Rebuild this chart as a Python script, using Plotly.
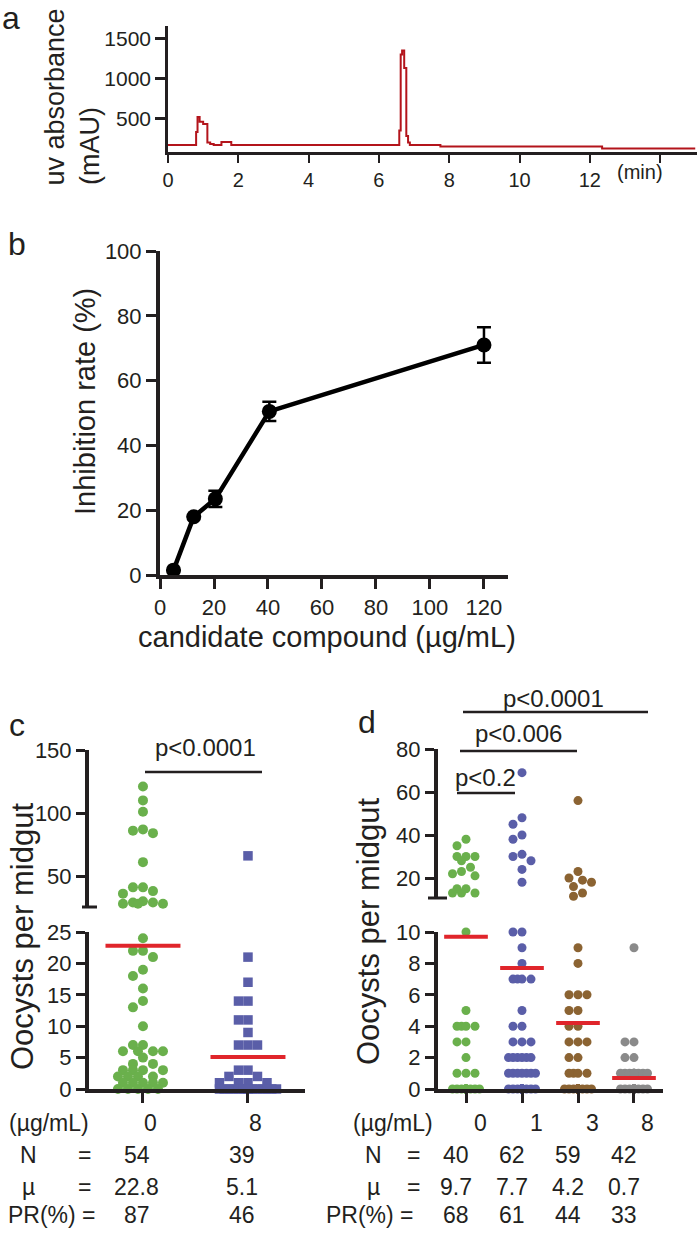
import numpy as np
import plotly.graph_objects as go

W, H = 697, 1233
INK = '#231f20'
SANS = 'Liberation Sans, Arial, sans-serif'
NARROW = 'Liberation Sans Narrow, Arial Narrow, Liberation Sans, sans-serif'

# --- (a) HPLC trace: step changes ---
a_time = [0.00, 0.80, 0.84, 0.90, 1.00, 1.12, 1.20, 1.30, 1.52, 1.80,
          6.58, 6.62, 6.66, 6.72, 6.78, 6.83, 6.88, 7.75, 12.35, 15.0]
a_mau = [170, 330, 520, 460, 430, 200, 180, 170, 205, 170,
         350, 1300, 1350, 1130, 280, 200, 170, 150, 125, 125]
a_xticks = [0, 2, 4, 6, 8, 10, 12, 14]
a_xlabels = ['0', '2', '4', '6', '8', '10', '12', '']
a_yticks = [500, 1000, 1500]

# --- (b) dose response ---
b_dose = [5, 12.5, 20.5, 40.5, 120]
b_inhib = [1.5, 18, 23.5, 50.5, 71]
b_err = [0, 0, 2.5, 3.0, 5.5]

# --- (c) oocysts, two doses ---
c_doses = ['0', '8']
c_n = [54, 39]
c_mu = [22.8, 5.1]
c_pr = [87, 46]
c_g0 = [121, 110, 101, 87, 86, 84, 61, 41, 41, 38, 36, 30, 29, 29, 28, 28, 28,
        24, 22, 22, 21, 19, 18, 16, 14, 13, 10, 7, 7, 6, 6, 6, 6, 5, 4, 4,
        3, 3, 3, 3, 2, 2, 2, 2, 1, 1, 1, 1, 1, 0, 0, 0, 0, 0]
c_g8 = [66, 21, 17, 14, 14, 11, 11, 9, 7, 7, 7, 3, 3, 2, 2, 1, 1, 1, 1,
        0, 0, 0, 0, 0, 0, 0, 0, 0, 0, 0, 0, 0, 0, 0, 0, 0, 0, 0, 0]

# --- (d) oocysts, four doses ---
d_doses = ['0', '1', '3', '8']
d_n = [40, 62, 59, 42]
d_mu = [9.7, 7.7, 4.2, 0.7]
d_pr = [68, 61, 44, 33]
d_g0 = [38, 35, 30, 30, 30, 28, 25, 23, 22, 21, 15, 15, 13, 13, 13,
        10, 5, 4, 4, 4, 4, 3, 3, 2, 1, 1, 1,
        0, 0, 0, 0, 0, 0, 0, 0, 0, 0, 0, 0, 0]
d_g1 = [69, 48, 45, 40, 38, 31, 30, 28, 24, 18,
        10, 10, 9, 8, 7, 7, 7, 7, 5, 4, 4, 3, 3, 3,
        2, 2, 2, 2, 2, 2, 1, 1, 1, 1, 1, 1, 1,
        0, 0, 0, 0, 0, 0, 0, 0, 0, 0, 0, 0, 0, 0, 0, 0, 0, 0, 0, 0, 0, 0, 0, 0, 0]
d_g3 = [56, 23, 20, 19, 18, 16, 13, 11.5,
        9, 8, 6, 6, 6, 5, 5, 4, 4, 3, 3, 3, 2, 2, 1, 1, 1, 1,
        0, 0, 0, 0, 0, 0, 0, 0, 0, 0, 0, 0, 0, 0, 0, 0, 0, 0, 0, 0, 0, 0, 0, 0,
        0, 0, 0, 0, 0, 0, 0, 0, 0]
d_g8 = [9, 3, 3, 2, 2, 1, 1, 1, 1, 1, 1, 1, 1, 1, 1,
        0, 0, 0, 0, 0, 0, 0, 0, 0, 0, 0, 0, 0, 0, 0, 0, 0, 0, 0, 0, 0, 0, 0, 0, 0, 0, 0]

GREEN, BLUE, BROWN, GREY, RED = '#6ab04c', '#5a5ea8', '#8b6332', '#8a8a8a', '#e0252b'


def fx(px):
    return px / W


def fy(py):
    return 1 - py / H


def swarm(vals, ppy, ppx, dot, half):
    """x offsets (axis units) for a scatter dot plot, GraphPad style."""
    step = dot / 2
    n = int(half // step)
    cands = sorted(range(-n, n + 1), key=lambda k: (abs(k), k))
    placed, offs = [], np.zeros(len(vals))
    for i in np.argsort(vals)[::-1]:
        y = vals[i] * ppy
        best, bestd = 0.0, -1.0
        for k in cands:
            x = k * step
            dmin = min([np.hypot(x - px, y - py) for px, py in placed] or [1e9])
            if dmin >= dot * 0.98:
                best = x
                break
            if dmin > bestd:
                bestd, best = dmin, x
        placed.append((best, y))
        offs[i] = best / ppx
    return offs


fig = go.Figure()

# panel a
fig.add_trace(go.Scatter(x=a_time, y=a_mau, mode='lines', line=dict(color='#b3141b', width=2, shape='hv'),
                         xaxis='x', yaxis='y', hoverinfo='skip'))

# panel b
fig.add_trace(go.Scatter(x=b_dose, y=b_inhib, mode='lines+markers',
                         line=dict(color='black', width=4.5), marker=dict(color='black', size=15),
                         error_y=dict(type='data', array=b_err, color='black', thickness=2.5, width=7),
                         xaxis='x2', yaxis='y2'))


def dot_groups(groups, colors, symbol, split, ax_up, ax_lo, ppx, ppy_up, ppy_lo, dot, half, size):
    for i, (vals, col) in enumerate(zip(groups, colors)):
        vals = np.array(vals, dtype=float)
        up = vals[vals > split]
        lo = vals[vals <= split]
        for seg, ax, ppy in ((up, ax_up, ppy_up), (lo, ax_lo, ppy_lo)):
            if len(seg) == 0:
                continue
            offs = swarm(seg, ppy, ppx, dot, half)
            fig.add_trace(go.Scatter(x=i + offs, y=seg, mode='markers', cliponaxis=False,
                                     marker=dict(symbol=symbol, size=size, color=col, line=dict(width=0)),
                                     xaxis=ax[0], yaxis=ax[1]))


dot_groups([c_g0], [GREEN], 'circle', 25, ('x3', 'y3'), ('x4', 'y4'), 105, 1.26, 6.28, 10, 29, 10)
dot_groups([[], c_g8], [GREEN, BLUE], 'square', 25, ('x3', 'y3'), ('x4', 'y4'), 105, 1.26, 6.28, 9.5, 31, 9.5)
dot_groups([d_g0, d_g1, d_g3, d_g8], [GREEN, BLUE, BROWN, GREY], 'circle', 10.5,
           ('x5', 'y5'), ('x6', 'y6'), 56, 2.15, 15.7, 9, 14, 9)

# mean bars
for i, m in enumerate(c_mu):
    fig.add_trace(go.Scatter(x=[i - 0.357, i + 0.357], y=[m, m], mode='lines', cliponaxis=False,
                             line=dict(color=RED, width=4), xaxis='x4', yaxis='y4'))
for i, m in enumerate(d_mu):
    fig.add_trace(go.Scatter(x=[i - 0.39, i + 0.39], y=[m, m], mode='lines', cliponaxis=False,
                             line=dict(color=RED, width=4), xaxis='x6', yaxis='y6'))

base = dict(showgrid=False, zeroline=False, showline=True, linecolor=INK, ticks='outside',
            tickcolor=INK, fixedrange=True, automargin=False)
tf22 = dict(family=SANS, size=22, color=INK)

layout_axes = dict(
    xaxis=dict(base, domain=[fx(168), 1], range=[0, 15.05], anchor='y', tickvals=a_xticks,
               ticktext=a_xlabels, ticklen=8, tickwidth=2, linewidth=2.5,
               tickfont=dict(family=NARROW, size=20, color=INK)),
    yaxis=dict(base, domain=[fy(152), fy(26)], range=[81, 1656], anchor='x', tickvals=a_yticks,
               ticklen=10, tickwidth=2.5, linewidth=2.5, tickfont=dict(family=NARROW, size=21, color=INK)),
    xaxis2=dict(base, domain=[fx(160), fx(508)], range=[0, 128.9], anchor='y2', tickvals=[0, 20, 40, 60, 80, 100, 120],
                ticklen=10, tickwidth=3, linewidth=4, tickfont=tf22),
    yaxis2=dict(base, domain=[fy(575), fy(251)], range=[0, 100], anchor='x2', tickvals=[0, 20, 40, 60, 80, 100],
                ticklen=10, tickwidth=3, linewidth=4, tickfont=tf22),
    xaxis3=dict(domain=[fx(89), fx(305)], range=[-0.514, 1.543], anchor='y3', visible=False,
                fixedrange=True, automargin=False),
    yaxis3=dict(base, domain=[fy(907), fy(750)], range=[25.4, 150], anchor='x3', tickvals=[50, 100, 150],
                ticklen=9, tickwidth=3, linewidth=4, tickfont=tf22),
    xaxis4=dict(base, domain=[fx(89), fx(305)], range=[-0.514, 1.543], anchor='y4', tickvals=[0, 1],
                ticktext=['', ''], ticklen=10, tickwidth=3, linewidth=4),
    yaxis4=dict(base, domain=[fy(1089), fy(932)], range=[0, 25], anchor='x4', tickvals=[0, 5, 10, 15, 20, 25],
                ticklen=9, tickwidth=3, linewidth=4, tickfont=tf22),
    xaxis5=dict(domain=[fx(438), fx(663)], range=[-0.5, 3.518], anchor='y5', visible=False,
                fixedrange=True, automargin=False),
    yaxis5=dict(base, domain=[fy(898), fy(749)], range=[10.7, 80], anchor='x5', tickvals=[20, 40, 60, 80],
                ticklen=9, tickwidth=3, linewidth=4, tickfont=tf22),
    xaxis6=dict(base, domain=[fx(438), fx(663)], range=[-0.5, 3.518], anchor='y6', tickvals=[0, 1, 2, 3],
                ticktext=['', '', '', ''], ticklen=10, tickwidth=3, linewidth=4),
    yaxis6=dict(base, domain=[fy(1089), fy(932)], range=[0, 10], anchor='x6', tickvals=[0, 2, 4, 6, 8, 10],
                ticklen=9, tickwidth=3, linewidth=4, tickfont=tf22),
)

ann = []


def txt(x, y, s, size=23, family=NARROW, xanchor='center', yanchor='middle', angle=0, xref='paper', xshift=0):
    ann.append(dict(x=fx(x) if xref == 'paper' else x, y=fy(y), xref=xref, yref='paper', text=s,
                    showarrow=False, textangle=angle, xanchor=xanchor, yanchor=yanchor, xshift=xshift,
                    font=dict(family=family, size=size, color=INK)))


# panel letters
for s, x, y in (('a', 11, 18), ('b', 17, 244), ('c', 17, 725), ('d', 367, 722)):
    txt(x, y, s, size=32, family=SANS)

# axis titles
txt(55, 187, 'uv absorbance', size=27, family=SANS, angle=-90, yanchor='bottom')
txt(90, 187, '(mAU)', size=27, family=SANS, angle=-90, yanchor='bottom')
txt(640, 172, '(min)', size=20)
txt(85, 402, 'Inhibition rate (%)', size=29, family=SANS, angle=-90)
txt(327, 637, 'candidate compound (µg/mL)', size=29, family=SANS)
txt(22, 937, 'Oocysts per midgut', size=31, family=SANS, angle=-90)
txt(368, 932, 'Oocysts per midgut', size=31, family=SANS, angle=-90)

# significance brackets
shapes = []


def hline(x0, x1, y, w=2.5):
    shapes.append(dict(type='line', xref='paper', yref='paper', x0=fx(x0), x1=fx(x1), y0=fy(y), y1=fy(y),
                       line=dict(color=INK, width=w)))


txt(205, 747, 'p&lt;0.0001', size=24, family=SANS)
hline(145, 262, 772)
txt(553, 698, 'p&lt;0.0001', size=24, family=SANS)
hline(463, 648, 712)
txt(518, 733, 'p&lt;0.006', size=24, family=SANS)
hline(460, 577, 751)
txt(485, 777, 'p&lt;0.2', size=24, family=SANS)
hline(457, 515, 793)

# axis break caps
hline(82, 97, 907, 3)
hline(428, 447, 898, 3)

# tables under c and d
rows_y = [1123, 1155, 1187, 1215]
for left, eq, pr_right, xa, doses, ns, mus, prs, dshift, nshift in (
        (7, 84, 98, 'x4', c_doses, c_n, c_mu, c_pr, 8, -6),
        (351, 413, 416, 'x6', d_doses, d_n, d_mu, d_pr, 14, -10)):
    txt(left, rows_y[0], '(µg/mL)', xanchor='left')
    txt(left + 22, rows_y[1], 'N')
    txt(eq, rows_y[1], '=')
    txt(left + 22, rows_y[2], 'µ')
    txt(eq, rows_y[2], '=')
    txt(pr_right, rows_y[3], 'PR(%) =', xanchor='right')
    for i in range(len(doses)):
        txt(i, rows_y[0], doses[i], xref=xa, xshift=dshift)
        txt(i, rows_y[1], str(ns[i]), xref=xa, xshift=nshift)
        txt(i, rows_y[2], str(mus[i]), xref=xa, xshift=nshift)
        txt(i, rows_y[3], str(prs[i]), xref=xa, xshift=nshift)

fig.update_layout(width=W, height=H, autosize=False,
                  margin=dict(l=0, r=0, t=0, b=0, pad=0, autoexpand=False),
                  paper_bgcolor='white', plot_bgcolor='white', showlegend=False,
                  annotations=ann, shapes=shapes, **layout_axes)

# the page body has a default 8px margin; drop it so the figure fills the window
fig.write_html('out.html', config={'displayModeBar': False},
               post_script="document.body.style.margin = '0';")
